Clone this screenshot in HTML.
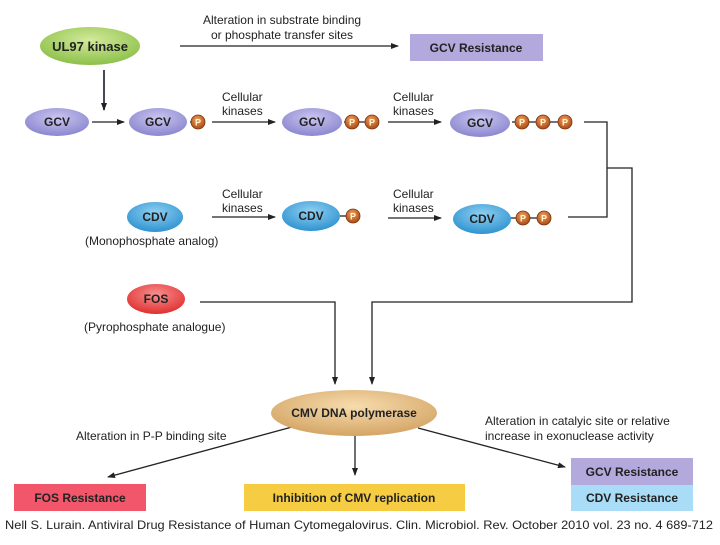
<!DOCTYPE html>
<html><head><meta charset="utf-8"><style>
html,body{margin:0;padding:0;background:#fff;}
svg text{font-family:"Liberation Sans",sans-serif;}
</style></head><body>
<svg width="720" height="540" viewBox="0 0 720 540" xmlns="http://www.w3.org/2000/svg">
<defs>
<marker id="a" markerWidth="8" markerHeight="6" refX="7" refY="3" orient="auto" markerUnits="userSpaceOnUse"><path d="M0,0 L8,3 L0,6 Z" fill="#222"/></marker>
<radialGradient id="gv" cx="50%" cy="35%" r="65%"><stop offset="0" stop-color="#c9c6f0"/><stop offset="1" stop-color="#8b86cf"/></radialGradient>
<radialGradient id="gc" cx="50%" cy="35%" r="65%"><stop offset="0" stop-color="#8fd0f2"/><stop offset="1" stop-color="#2f93d0"/></radialGradient>
<radialGradient id="gg" cx="50%" cy="35%" r="65%"><stop offset="0" stop-color="#d3ea9a"/><stop offset="1" stop-color="#8cc04a"/></radialGradient>
<radialGradient id="gr" cx="50%" cy="35%" r="65%"><stop offset="0" stop-color="#f89090"/><stop offset="1" stop-color="#e03030"/></radialGradient>
<radialGradient id="go" cx="50%" cy="35%" r="65%"><stop offset="0" stop-color="#f7dcae"/><stop offset="1" stop-color="#d4a565"/></radialGradient>
<radialGradient id="gp" cx="45%" cy="35%" r="60%"><stop offset="0" stop-color="#f0a060"/><stop offset="1" stop-color="#b0501a"/></radialGradient>
<g id="p"><circle r="7" fill="url(#gp)" stroke="#7a3510" stroke-width="0.8"/><text y="3.5" text-anchor="middle" font-size="9" font-weight="bold" fill="#fff5d0">P</text></g>
</defs>
<g stroke="#222" stroke-width="1.3" fill="none">
<line x1="180" y1="46" x2="398" y2="46" marker-end="url(#a)"/>
<line x1="104" y1="70" x2="104" y2="110" stroke="#334" stroke-width="1.8" marker-end="url(#a)"/>
<line x1="92" y1="122" x2="124" y2="122" marker-end="url(#a)"/>
<line x1="212" y1="122" x2="275" y2="122" marker-end="url(#a)"/>
<line x1="388" y1="122" x2="441" y2="122" marker-end="url(#a)"/>
<line x1="212" y1="217" x2="275" y2="217" marker-end="url(#a)"/>
<line x1="388" y1="218" x2="441" y2="218" marker-end="url(#a)"/>
<polyline points="584,122 607,122 607,217 568,217"/>
<polyline points="607,168 632,168 632,302 372,302 372,384" marker-end="url(#a)"/>
<polyline points="200,302 335,302 335,384" marker-end="url(#a)"/>
<line x1="292" y1="427" x2="108" y2="477" marker-end="url(#a)"/>
<line x1="355" y1="435" x2="355" y2="475" marker-end="url(#a)"/>
<line x1="418" y1="428" x2="565" y2="467" marker-end="url(#a)"/>
<line x1="190" y1="122" x2="198" y2="122"/>
<line x1="344" y1="122" x2="372" y2="122"/>
<line x1="512" y1="122" x2="565" y2="122"/>
<line x1="340" y1="216" x2="352" y2="216"/>
<line x1="510" y1="218" x2="543" y2="218"/>
</g>
<ellipse cx="90" cy="46" rx="50" ry="19" fill="url(#gg)"/>
<text x="90" y="51" text-anchor="middle" font-size="13" font-weight="bold" fill="#222">UL97 kinase</text>
<text x="282" y="24" text-anchor="middle" font-size="12" fill="#222">Alteration in substrate binding</text>
<text x="282" y="39" text-anchor="middle" font-size="12" fill="#222">or phosphate transfer sites</text>
<rect x="410" y="34" width="133" height="27" fill="#b3a9dc"/>
<text x="476" y="52" text-anchor="middle" font-size="12" font-weight="bold" fill="#222">GCV Resistance</text>
<g font-size="12" font-weight="bold" fill="#222" text-anchor="middle">
<ellipse cx="57" cy="122" rx="32" ry="14" fill="url(#gv)"/><text x="57" y="126">GCV</text>
<ellipse cx="158" cy="122" rx="29" ry="14" fill="url(#gv)"/><text x="158" y="126">GCV</text>
<ellipse cx="312" cy="122" rx="30" ry="14" fill="url(#gv)"/><text x="312" y="126">GCV</text>
<ellipse cx="480" cy="123" rx="30" ry="14" fill="url(#gv)"/><text x="480" y="127">GCV</text>
<ellipse cx="155" cy="217" rx="28" ry="15" fill="url(#gc)"/><text x="155" y="221">CDV</text>
<ellipse cx="311" cy="216" rx="29" ry="15" fill="url(#gc)"/><text x="311" y="220">CDV</text>
<ellipse cx="482" cy="219" rx="29" ry="15" fill="url(#gc)"/><text x="482" y="223">CDV</text>
<ellipse cx="156" cy="299" rx="29" ry="15" fill="url(#gr)"/><text x="156" y="303">FOS</text>
<ellipse cx="354" cy="413" rx="83" ry="23" fill="url(#go)"/><text x="354" y="417">CMV DNA polymerase</text>
</g>
<use href="#p" x="198" y="122"/>
<use href="#p" x="352" y="122"/><use href="#p" x="372" y="122"/>
<use href="#p" x="522" y="122"/><use href="#p" x="543" y="122"/><use href="#p" x="565" y="122"/>
<use href="#p" x="353" y="216"/>
<use href="#p" x="523" y="218"/><use href="#p" x="544" y="218"/>
<g font-size="12" fill="#222">
<text x="222" y="101">Cellular</text><text x="222" y="115">kinases</text>
<text x="393" y="101">Cellular</text><text x="393" y="115">kinases</text>
<text x="222" y="198">Cellular</text><text x="222" y="212">kinases</text>
<text x="393" y="198">Cellular</text><text x="393" y="212">kinases</text>
<text x="85" y="245">(Monophosphate analog)</text>
<text x="84" y="331">(Pyrophosphate analogue)</text>
<text x="76" y="440">Alteration in P-P binding site</text>
<text x="485" y="425">Alteration in catalyic site or relative</text>
<text x="485" y="440">increase in exonuclease activity</text>
</g>
<rect x="14" y="484" width="132" height="27" fill="#f2566a"/>
<text x="80" y="502" text-anchor="middle" font-size="12" font-weight="bold" fill="#222">FOS Resistance</text>
<rect x="244" y="484" width="221" height="27" fill="#f6cc42"/>
<text x="354" y="502" text-anchor="middle" font-size="12" font-weight="bold" fill="#222">Inhibition of CMV replication</text>
<rect x="571" y="458" width="122" height="27" fill="#b3a9dc"/>
<text x="632" y="476" text-anchor="middle" font-size="12" font-weight="bold" fill="#222">GCV Resistance</text>
<rect x="571" y="485" width="122" height="26" fill="#a9dcf6"/>
<text x="632" y="502" text-anchor="middle" font-size="12" font-weight="bold" fill="#222">CDV Resistance</text>
<text x="5" y="529" font-size="12" fill="#222" textLength="708" lengthAdjust="spacingAndGlyphs">Nell S. Lurain. Antiviral Drug Resistance of Human Cytomegalovirus. Clin. Microbiol. Rev. October 2010 vol. 23 no. 4 689-712</text>
</svg>
</body></html>
